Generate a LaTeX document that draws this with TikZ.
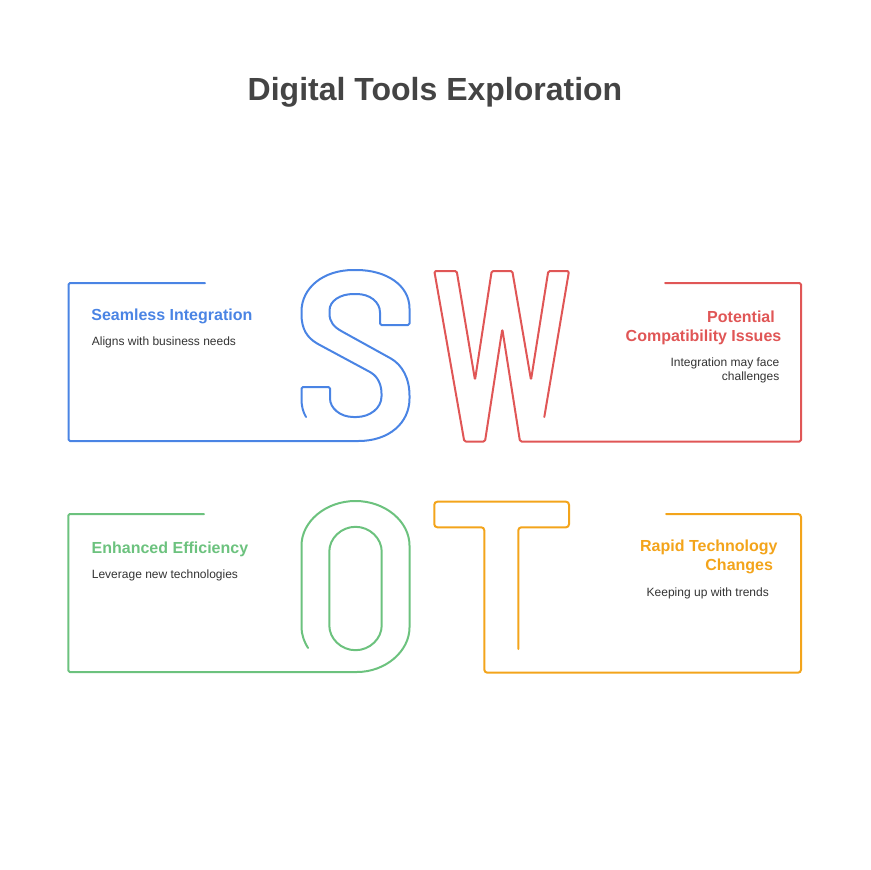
\documentclass[tikz,border=0pt]{standalone}
\usepackage{fontspec}
\setmainfont{Liberation Sans}
\definecolor{sblue}{HTML}{4A84E4}
\definecolor{wred}{HTML}{E05656}
\definecolor{ogreen}{HTML}{6CC27E}
\definecolor{torange}{HTML}{F3A41B}
\definecolor{titlegray}{HTML}{444444}
\definecolor{descgray}{HTML}{333333}
\tikzset{
  outline/.style={line width=2pt, rounded corners=1.5pt, line join=round, line cap=round},
  head/.style={inner sep=0pt, font=\fontsize{16}{19}\selectfont\bfseries},
  desc/.style={inner sep=0pt, text=descgray, font=\fontsize{12}{14}\selectfont},
}
\begin{document}
\begin{tikzpicture}[x=1pt,y=-1pt]
\useasboundingbox (0,0) rectangle (870,870);
% title
\node[inner sep=0pt, anchor=base, text=titlegray, font=\fontsize{32}{38}\selectfont\bfseries] (title) at (435,100) {Digital Tools Exploration};

% S quadrant (blue)
\draw[outline, sblue] (205,283) -- (68.5,283) -- (68.5,441) -- (357,441)
  .. controls (389,441) and (409.5,423) .. (409.5,397)
  .. controls (409.5,378) and (402,365) .. (390,358) -- (343,332)
  .. controls (334,327) and (329.5,322) .. (329.5,312)
  .. controls (329.5,301) and (340,294) .. (355,294)
  .. controls (370,294) and (380,302) .. (380,314) -- (380,325) -- (409.5,325) -- (409.5,310)
  .. controls (409.5,285) and (386,270) .. (355,270)
  .. controls (323,270) and (301.5,288) .. (301.5,313)
  .. controls (301.5,330) and (308,338) .. (318,344) -- (370,372)
  .. controls (378,377) and (381.5,385) .. (381.5,395)
  .. controls (381.5,408) and (370,417) .. (355,417)
  .. controls (340,417) and (330,408) .. (330,397) -- (330,387) -- (301.5,387) -- (301.5,398)
  .. controls (301.5,406) and (303,412) .. (306,417);
\node[head, text=sblue, anchor=base west] (shead) at (91.2,320) {Seamless Integration};
\node[desc, anchor=base west] (sdesc) at (91.7,345) {Aligns with business needs};

% W quadrant (red)
\draw[outline, wred] (665,283) -- (801,283) -- (801,441.5) -- (520,441.5) -- (502.3,329) -- (485,441.5) -- (464.3,441.5) -- (434.3,271) -- (456.7,271) -- (475,380) -- (491.7,271) -- (512.3,271) -- (531,380) -- (548.3,271) -- (569,271) -- (544.3,417);
\node[head, text=wred, anchor=base east] (whead1) at (775,322) {Potential};
\node[head, text=wred, anchor=base east] (whead2) at (781.5,341.5) {Compatibility Issues};
\node[desc, anchor=base east] (wdesc1) at (779.5,366) {Integration may face};
\node[desc, anchor=base east] (wdesc2) at (779.5,380.5) {challenges};

% O quadrant (green)
\draw[outline, ogreen] (204,514) -- (68.3,514) -- (68.3,672) -- (355.5,672)
  arc[start angle=90, end angle=0, x radius=54, y radius=46] -- (409.5,547)
  arc[start angle=0, end angle=-180, x radius=54, y radius=46] -- (301.5,626)
  arc[start angle=180, end angle=151.5, x radius=54, y radius=46];
\draw[outline, ogreen] (381.7,553) arc[start angle=0, end angle=-180, radius=26.2] -- (329.3,624)
  arc[start angle=180, end angle=0, radius=26.2] -- cycle;
\node[head, text=ogreen, anchor=base west] (ohead) at (91.5,553) {Enhanced Efficiency};
\node[desc, anchor=base west] (odesc) at (91.7,578.5) {Leverage new technologies};

% T quadrant (orange)
\draw[outline, torange, rounded corners=3pt] (666,514) -- (801,514) -- (801,672.7) -- (484.3,672.7) -- (484.3,527.3) -- (434.3,527.3) -- (434.3,501.7) -- (569,501.7) -- (569,527.3) -- (518.3,527.3) -- (518.3,649);
\node[head, text=torange, anchor=base east] (thead1) at (777.8,551) {Rapid Technology};
\node[head, text=torange, anchor=base east] (thead2) at (773.2,570) {Changes};
\node[desc, anchor=base east] (tdesc) at (769,596) {Keeping up with trends};
\end{tikzpicture}
\end{document}
